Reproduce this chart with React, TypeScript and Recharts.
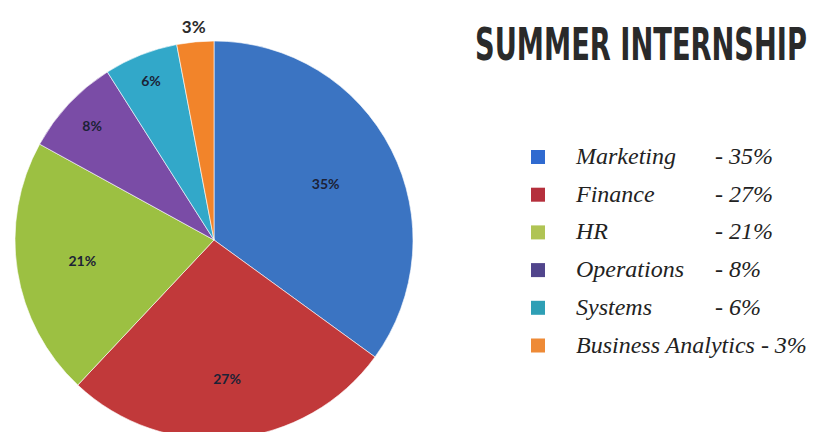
import { Legend, Pie, PieChart, Cell } from "recharts";

const categories = ["Marketing", "Finance", "HR", "Operations", "Systems", "Business Analytics"];
const shares = [35, 27, 21, 8, 6, 3];
const sliceColors = ["#3b74c2", "#c1393a", "#9cc042", "#7a4ca6", "#32a8c9", "#f2842a"];
const legendColors = ["#2f6ad0", "#b52f3c", "#b0c454", "#51458c", "#2e9fb5", "#ee8a36"];
const labelRadius = [0.63, 0.7, 0.67, 0.84, 0.86, 1.08];

const data = categories.map((name, i) => ({ name, value: shares[i] }));

const RAD = Math.PI / 180;
const TITLE_SX = 0.66;

function SliceLabel(props: any) {
  const { cx, cy, midAngle, outerRadius, index, value } = props;
  const r = outerRadius * labelRadius[index];
  const x = cx + r * Math.cos(-midAngle * RAD);
  const y = cy + r * Math.sin(-midAngle * RAD);
  const outside = labelRadius[index] > 1;
  return (
    <text
      x={x}
      y={y}
      textAnchor="middle"
      dominantBaseline="central"
      fontFamily="Lato, 'Open Sans', sans-serif"
      fontWeight={700}
      fontSize={outside ? 17 : 14}
      fill={outside ? "#2b2b2b" : "#1c2236"}
    >
      {value}%
    </text>
  );
}

function LegendBox() {
  return (
    <svg width={816} height={432} style={{ display: "block", overflow: "visible" }}>
      <g transform={`translate(475,60) scale(${TITLE_SX},1)`}>
        <text
          x={0}
          y={0}
          textLength={332 / TITLE_SX}
          lengthAdjust="spacingAndGlyphs"
          fontFamily="'DejaVu Sans Condensed', 'DejaVu Sans', sans-serif"
          fontWeight={700}
          fontSize={44}
          fill="#2a2a2a"
        >
          SUMMER INTERNSHIP
        </text>
      </g>
      {categories.map((name, i) => {
        const y = 157 + i * 37.7;
        const inline = name.length > 12;
        return (
          <g key={name}>
            <rect x={531} y={y - 7} width={14} height={14} fill={legendColors[i]} />
            <text
              x={576}
              y={y + 7}
              fontFamily="'Liberation Serif', serif"
              fontStyle="italic"
              fontSize={24}
              fill="#222"
            >
              {inline ? `${name} - ${shares[i]}%` : name}
            </text>
            {!inline && (
              <text
                x={715}
                y={y + 7}
                fontFamily="'Liberation Serif', serif"
                fontStyle="italic"
                fontSize={24}
                fill="#222"
              >
                - {shares[i]}%
              </text>
            )}
          </g>
        );
      })}
    </svg>
  );
}

export default function App() {
  return (
    <div style={{ position: "absolute", left: 0, top: 0, width: 816, height: 432, background: "#fff" }}>
      <PieChart width={816} height={432}>
        <Pie
          data={data}
          dataKey="value"
          nameKey="name"
          cx={209}
          cy={235}
          outerRadius={199}
          startAngle={90}
          endAngle={-270}
          stroke="#ffffff"
          strokeOpacity={0.6}
          strokeWidth={1}
          label={SliceLabel}
          labelLine={false}
          isAnimationActive={false}
        >
          {data.map((d, i) => (
            <Cell key={d.name} fill={sliceColors[i]} />
          ))}
        </Pie>
        <Legend
          content={LegendBox}
          wrapperStyle={{ position: "absolute", left: 0, top: 0, width: 816, height: 432 }}
        />
      </PieChart>
    </div>
  );
}
